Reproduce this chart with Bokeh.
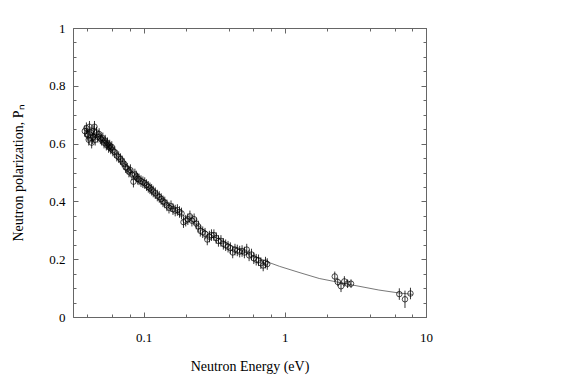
import numpy as np
from bokeh.plotting import figure
from bokeh.models import (LogAxis, LinearAxis, LogTicker, SingleIntervalTicker,
                          CustomJSTickFormatter, Range1d, ColumnDataSource)
from bokeh.embed import file_html
from bokeh.resources import INLINE

# ---- data ----
energy = [0.038, 0.039, 0.0395, 0.040, 0.0405, 0.041, 0.042, 0.0425, 0.043, 0.0435,
          0.044, 0.0445, 0.045, 0.046, 0.047, 0.048, 0.049, 0.050, 0.051, 0.052,
          0.053, 0.054, 0.055, 0.056, 0.057, 0.058, 0.059, 0.060, 0.062, 0.064,
          0.066, 0.068, 0.070, 0.072, 0.074, 0.076, 0.078, 0.080, 0.082, 0.084,
          0.086, 0.088, 0.090, 0.092, 0.095, 0.098, 0.101, 0.104, 0.107, 0.110,
          0.113, 0.116, 0.120, 0.124, 0.128, 0.132, 0.136, 0.140, 0.145, 0.150,
          0.155, 0.160, 0.166, 0.172, 0.178, 0.184, 0.190, 0.197, 0.204, 0.211,
          0.218, 0.226, 0.234, 0.242, 0.250, 0.260, 0.270, 0.280, 0.290, 0.300,
          0.312, 0.324, 0.336, 0.350, 0.364, 0.378, 0.393, 0.408, 0.424, 0.440,
          0.457, 0.475, 0.494, 0.513, 0.533, 0.554, 0.576, 0.598, 0.622, 0.646,
          0.671, 0.697, 0.724, 0.745,
          2.24, 2.35, 2.48, 2.62, 2.76, 2.92, 6.42, 7.04, 7.70]
polarization = [0.645, 0.655, 0.635, 0.630, 0.615, 0.660, 0.640, 0.605, 0.620, 0.625,
                0.645, 0.660, 0.615, 0.640, 0.625, 0.635, 0.620, 0.615, 0.620, 0.605,
                0.612, 0.598, 0.603, 0.590, 0.595, 0.585, 0.590, 0.578, 0.572, 0.560,
                0.555, 0.548, 0.540, 0.532, 0.520, 0.515, 0.505, 0.510, 0.495, 0.470,
                0.495, 0.488, 0.480, 0.478, 0.472, 0.468, 0.465, 0.458, 0.452, 0.447,
                0.442, 0.436, 0.430, 0.422, 0.417, 0.410, 0.402, 0.398, 0.388, 0.380,
                0.385, 0.375, 0.370, 0.372, 0.365, 0.360, 0.330, 0.335, 0.340, 0.350,
                0.335, 0.340, 0.325, 0.315, 0.300, 0.295, 0.290, 0.270, 0.280, 0.285,
                0.285, 0.275, 0.265, 0.265, 0.255, 0.250, 0.245, 0.240, 0.225, 0.235,
                0.232, 0.228, 0.230, 0.225, 0.235, 0.215, 0.218, 0.205, 0.200, 0.198,
                0.188, 0.180, 0.190, 0.185,
                0.142, 0.123, 0.108, 0.125, 0.117, 0.117, 0.081, 0.063, 0.083]
error = [0.020, 0.020, 0.020, 0.020, 0.020, 0.020, 0.020, 0.020, 0.020, 0.020,
         0.020, 0.020, 0.020, 0.020, 0.020, 0.020, 0.020, 0.020, 0.020, 0.020,
         0.020, 0.020, 0.020, 0.020, 0.020, 0.020, 0.020, 0.020, 0.020, 0.020,
         0.020, 0.020, 0.020, 0.020, 0.020, 0.020, 0.020, 0.020, 0.020, 0.020,
         0.020, 0.020, 0.020, 0.020, 0.020, 0.020, 0.020, 0.020, 0.020, 0.020,
         0.020, 0.020, 0.020, 0.020, 0.020, 0.020, 0.020, 0.020, 0.020, 0.020,
         0.020, 0.020, 0.020, 0.020, 0.020, 0.020, 0.020, 0.020, 0.020, 0.020,
         0.020, 0.020, 0.020, 0.020, 0.020, 0.020, 0.020, 0.020, 0.020, 0.020,
         0.020, 0.020, 0.020, 0.020, 0.020, 0.020, 0.020, 0.020, 0.020, 0.020,
         0.020, 0.020, 0.020, 0.020, 0.020, 0.020, 0.020, 0.020, 0.020, 0.020,
         0.020, 0.020, 0.020, 0.020,
         0.017, 0.015, 0.020, 0.018, 0.015, 0.015, 0.020, 0.030, 0.020]

fit_energy = [0.038, 0.05, 0.07, 0.1, 0.15, 0.2, 0.3, 0.5, 0.77, 0.91, 1.25, 1.74,
              2.67, 4.6, 6.35, 8.0]
fit_polarization = [0.655, 0.615, 0.54, 0.462, 0.39, 0.345, 0.285, 0.228, 0.19,
                    0.177, 0.156, 0.135, 0.117, 0.095, 0.085, 0.08]

x_title = "Neutron Energy (eV)"
y_title = "Neutron polarization, P\u2099"

# ---- figure ----
FONT = "'Liberation Serif', 'Times New Roman', serif"
AX = "#666666"

p = figure(width=583, height=379, x_axis_type="log",
           x_range=Range1d(0.0316, 10), y_range=Range1d(0, 1),
           output_backend="svg", toolbar_location=None,
           min_border_left=73, min_border_right=157,
           min_border_top=28, min_border_bottom=62)
p.grid.visible = False
p.outline_line_color = None
p.background_fill_color = "white"
p.border_fill_color = "white"

src = ColumnDataSource(dict(
    x=energy, y=polarization,
    lo=list(np.array(polarization) - np.array(error)),
    hi=list(np.array(polarization) + np.array(error)),
))

p.line(fit_energy, fit_polarization, line_color="#555555", line_width=0.8)
p.segment(x0="x", y0="lo", x1="x", y1="hi", source=src,
          line_color="black", line_width=0.8)
p.scatter("x", "y", source=src, marker="circle", size=5.5,
          fill_color=None, line_color="black", line_width=0.7)


def style(ax, show):
    ax.axis_line_color = AX
    ax.major_tick_line_color = AX
    ax.minor_tick_line_color = AX
    ax.major_tick_in = 5
    ax.major_tick_out = 0
    ax.minor_tick_in = 3
    ax.minor_tick_out = 0
    ax.major_label_text_font = FONT
    ax.major_label_text_font_size = "13px"
    ax.major_label_text_color = "black"
    ax.axis_label_text_font = FONT
    ax.axis_label_text_font_size = "14px"
    ax.axis_label_text_font_style = "normal"
    ax.axis_label_text_color = "black"
    if not show:
        ax.major_label_standoff = 0
        ax.formatter = CustomJSTickFormatter(code="return ''")


xa = p.xaxis[0]
xa.ticker = LogTicker()
xa.formatter = CustomJSTickFormatter(code="return String(tick)")
style(xa, True)
xa.major_label_standoff = 16
xa.axis_label = x_title
xa.axis_label_standoff = 14

ya = p.yaxis[0]
ya.ticker = SingleIntervalTicker(interval=0.2, num_minor_ticks=4)
ya.formatter = CustomJSTickFormatter(code="return String(Math.round(tick*100)/100)")
style(ya, True)
ya.major_label_standoff = 8
ya.axis_label = y_title
ya.axis_label_standoff = 20

top = LogAxis(ticker=LogTicker())
style(top, False)
p.add_layout(top, "above")

right = LinearAxis(ticker=SingleIntervalTicker(interval=0.2, num_minor_ticks=4))
style(right, False)
p.add_layout(right, "right")

open("out.html", "w").write(file_html(p, INLINE))
